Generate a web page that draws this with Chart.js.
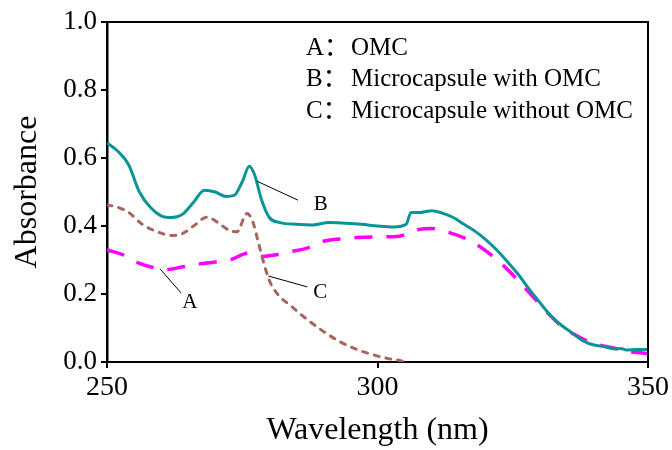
<!DOCTYPE html>
<html>
<head>
<meta charset="utf-8">
<script src="https://cdn.jsdelivr.net/npm/chart.js@4.4.1/dist/chart.umd.min.js"></script>
<style>
  html, body { margin: 0; padding: 0; background: #fff; }
  #wrap { width: 672px; height: 450px; }
</style>
</head>
<body>
<div id="wrap"><canvas id="uvChart" width="672" height="450"></canvas></div>
<script>
// UV-vis absorbance spectra, 250-350 nm
const waveA = [250, 253, 256, 258, 261, 264, 267, 270, 273, 276, 278.5, 281, 284, 287, 290, 293, 296, 300, 304, 307, 310, 313, 316, 318.5, 321, 323.5, 326, 328, 330, 332, 334, 336.5, 339, 341, 344, 346, 348, 350];
const absA = [0.33, 0.315, 0.29, 0.28, 0.272, 0.28, 0.288, 0.294, 0.302, 0.32, 0.31, 0.315, 0.325, 0.335, 0.355, 0.362, 0.366, 0.368, 0.37, 0.388, 0.393, 0.382, 0.365, 0.344, 0.315, 0.28, 0.24, 0.205, 0.17, 0.136, 0.105, 0.08, 0.06, 0.05, 0.04, 0.03, 0.028, 0.025];

const waveB = [250, 252, 254, 256, 258, 260, 262, 264, 266, 268, 270, 272, 273.5, 275, 276.3, 277.3, 278.5, 280, 282, 285, 288, 291, 294, 297, 300, 303, 305.3, 306.2, 308, 310, 312, 314, 316, 318, 320, 322, 324, 326, 328, 330, 332, 334, 336, 338, 340, 342, 344, 345, 346, 348, 350];
const absB = [0.644, 0.62, 0.58, 0.5, 0.455, 0.43, 0.425, 0.435, 0.47, 0.505, 0.5, 0.487, 0.49, 0.53, 0.576, 0.55, 0.48, 0.425, 0.41, 0.405, 0.403, 0.41, 0.408, 0.405, 0.4, 0.397, 0.405, 0.44, 0.44, 0.445, 0.438, 0.425, 0.405, 0.385, 0.36, 0.33, 0.295, 0.258, 0.215, 0.175, 0.137, 0.108, 0.085, 0.062, 0.05, 0.045, 0.038, 0.04, 0.035, 0.037, 0.037];

const waveC = [250, 252, 254, 256.5, 259, 262, 264, 266, 268.5, 270.5, 272.5, 274, 275.9, 277, 278, 279, 280, 281.5, 284, 287, 290, 293, 296, 299, 302, 304, 305];
const absC = [0.462, 0.455, 0.44, 0.405, 0.385, 0.372, 0.378, 0.4, 0.426, 0.41, 0.388, 0.383, 0.437, 0.41, 0.35, 0.29, 0.24, 0.2, 0.165, 0.125, 0.09, 0.06, 0.038, 0.022, 0.01, 0.005, 0.0];

const xTicks = [250, 300, 350];
const yTicks = [0.0, 0.2, 0.4, 0.6, 0.8, 1.0];

const legendKeys = ['A：', 'B：', 'C：'];
const legendNames = ['OMC', 'Microcapsule with OMC', 'Microcapsule without OMC'];

// leader lines: [x1, y1, x2, y2] in data units, label position
const leaderLabels = ['A', 'B', 'C'];
const leaderLines = [[259.8, 0.274, 263.7, 0.203], [277.7, 0.532, 285.3, 0.476], [279.8, 0.253, 287.0, 0.221]];
const leaderText = [[265.3, 0.176], [289.5, 0.462], [289.4, 0.204]];

const SERIF = '"Liberation Serif", "Times New Roman", serif';
const CJK = '"Liberation Serif", "Noto Sans CJK SC", serif';

function toPoints(xs, ys) {
  return xs.map((x, i) => ({ x, y: ys[i] }));
}

const decorations = {
  id: 'decorations',
  afterDraw(chart) {
    const { ctx, chartArea: area, scales } = chart;
    const sx = scales.x, sy = scales.y;
    ctx.save();

    // top and right frame lines
    ctx.strokeStyle = '#000';
    ctx.lineWidth = 2;
    ctx.beginPath();
    ctx.moveTo(area.left, area.top);
    ctx.lineTo(area.right, area.top);
    ctx.lineTo(area.right, area.bottom);
    ctx.stroke();

    // leader lines and curve letters
    ctx.lineWidth = 1;
    leaderLines.forEach(([x1, y1, x2, y2]) => {
      ctx.beginPath();
      ctx.moveTo(sx.getPixelForValue(x1), sy.getPixelForValue(y1));
      ctx.lineTo(sx.getPixelForValue(x2), sy.getPixelForValue(y2));
      ctx.stroke();
    });
    ctx.fillStyle = '#000';
    ctx.font = '21px ' + SERIF;
    ctx.textAlign = 'center';
    ctx.textBaseline = 'middle';
    leaderText.forEach(([x, y], i) => {
      ctx.fillText(leaderLabels[i], sx.getPixelForValue(x), sy.getPixelForValue(y));
    });

    // text legend
    ctx.textAlign = 'left';
    const rows = [48, 79, 111];
    legendKeys.forEach((key, i) => {
      ctx.font = '25px ' + CJK;
      ctx.fillText(key, 306, rows[i]);
      ctx.font = '25px ' + SERIF;
      ctx.fillText(legendNames[i], 351, rows[i]);
    });

    // axis titles
    ctx.font = '32px ' + SERIF;
    ctx.textAlign = 'center';
    ctx.fillText('Wavelength (nm)', (area.left + area.right) / 2, 431);
    ctx.translate(28, (area.top + area.bottom) / 2);
    ctx.rotate(-Math.PI / 2);
    ctx.fillText('Absorbance', 0, 0);
    ctx.restore();
  }
};

new Chart(document.getElementById('uvChart'), {
  type: 'line',
  data: {
    datasets: [
      {
        label: 'B',
        data: toPoints(waveB, absB),
        borderColor: '#0a9495',
        borderWidth: 3,
        pointRadius: 0,
        cubicInterpolationMode: 'monotone',
      },
      {
        label: 'C',
        data: toPoints(waveC, absC),
        borderColor: '#a8655f',
        borderWidth: 3,
        borderDash: [5, 7],
        borderCapStyle: 'round',
        pointRadius: 0,
        cubicInterpolationMode: 'monotone',
      },
      {
        label: 'A',
        data: toPoints(waveA, absA),
        borderColor: '#ff00ff',
        borderWidth: 3.5,
        borderDash: [18, 14],
        pointRadius: 0,
        cubicInterpolationMode: 'monotone',
      },
    ],
  },
  options: {
    responsive: false,
    animation: false,
    layout: { padding: { top: 22, right: 24, left: 0, bottom: 0 } },
    plugins: {
      legend: { display: false },
      tooltip: { enabled: false },
    },
    scales: {
      x: {
        type: 'linear',
        min: 250,
        max: 350,
        afterBuildTicks(scale) { scale.ticks = xTicks.map(v => ({ value: v })); },
        afterFit(scale) { scale.height = 88; },
        ticks: {
          color: '#000',
          padding: 3,
          font: { family: SERIF, size: 28 },
        },
        grid: { drawOnChartArea: false, drawTicks: true, tickLength: 6, color: '#000', lineWidth: 2 },
        border: { display: true, color: '#000', width: 2 },
      },
      y: {
        min: 0,
        max: 1,
        afterBuildTicks(scale) { scale.ticks = yTicks.map(v => ({ value: v })); },
        afterFit(scale) { scale.width = 107; },
        ticks: {
          color: '#000',
          padding: 4,
          font: { family: SERIF, size: 27 },
          callback(value) { return Number(value).toFixed(1); },
        },
        grid: { drawOnChartArea: false, drawTicks: true, tickLength: 6, color: '#000', lineWidth: 2 },
        border: { display: true, color: '#000', width: 2.5 },
      },
    },
  },
  plugins: [decorations],
});
</script>
</body>
</html>
